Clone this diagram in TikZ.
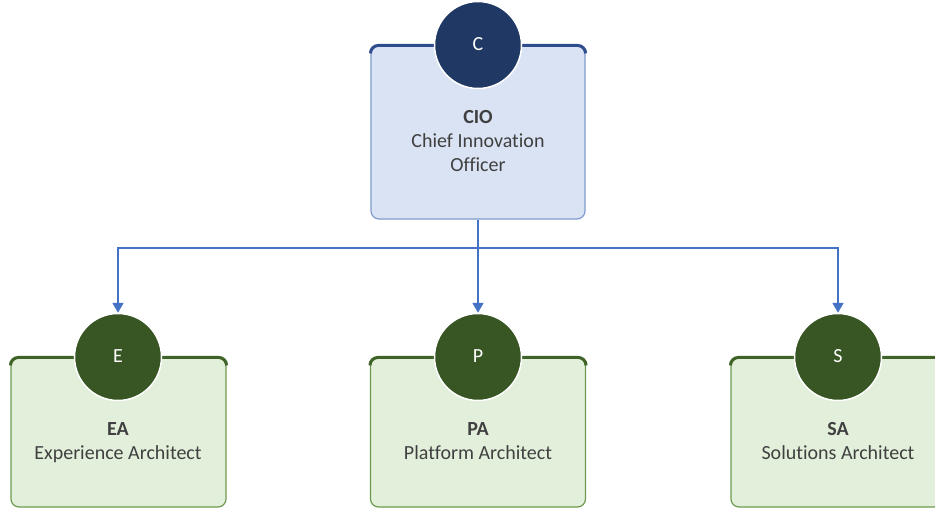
\documentclass[tikz,border=0pt]{standalone}
\usepackage{fontspec}
\setmainfont{Carlito}[Ligatures=NoCommon]
\usetikzlibrary{arrows.meta,calc}

\definecolor{bluefill}{HTML}{DAE3F3}
\definecolor{blueedge}{HTML}{7F9BCB}
\definecolor{bluetop}{HTML}{2F4D8C}
\definecolor{bluedisc}{HTML}{203864}
\definecolor{greenfill}{HTML}{E2EFDA}
\definecolor{greenedge}{HTML}{6E9A4E}
\definecolor{greentop}{HTML}{3F6229}
\definecolor{greendisc}{HTML}{375623}
\definecolor{textgray}{HTML}{404040}
\definecolor{linkblue}{HTML}{4472C4}

\tikzset{
  card/.style={rectangle, rounded corners=8pt, line width=1.2pt, inner sep=0pt},
  bluecard/.style={card, fill=bluefill, draw=blueedge, minimum width=214pt, minimum height=173pt},
  greencard/.style={card, fill=greenfill, draw=greenedge, minimum width=215pt, minimum height=149pt},
  disc/.style={circle, draw=white, line width=1.5pt, minimum size=87pt, inner sep=0pt,
    text=white, font=\fontsize{20}{24}\selectfont, text height=11pt, text depth=0pt},
  label/.style={align=center, text=textgray, font=\fontsize{20}{24}\selectfont},
  link/.style={draw=linkblue, line width=2pt, -{Triangle[width=11pt,length=10pt]}},
}

\newcommand{\topedge}[2]{%
  \draw[#2, line width=3pt, rounded corners=8pt]
    ($(#1.north west)+(0,8)$) -- (#1.north west) -- (#1.north east) -- ($(#1.north east)+(0,8)$);}

\begin{document}
\begin{tikzpicture}[x=1pt,y=-1pt]
\useasboundingbox (0,0) rectangle (935,508);
\clip (0,0) rectangle (935,508);

% Chief Innovation Officer card
\node[bluecard] (cio) at (478,132.5) {};
\topedge{cio}{bluetop}
\node[disc, fill=bluedisc] (c) at (478,45) {C};
\node[label] (ciotext) at (478,145) {\textbf{CIO}\\Chief Innovation\\Officer\strut};

% Architect cards
\node[greencard] (ea) at (118.5,432.5) {};
\topedge{ea}{greentop}
\node[disc, fill=greendisc] (e) at (118,357) {E};
\node[label] (eatext) at (118,445) {\textbf{EA}\\Experience Architect\strut};

\node[greencard] (pa) at (478,432.5) {};
\topedge{pa}{greentop}
\node[disc, fill=greendisc] (p) at (478,357) {P};
\node[label] (patext) at (478,445) {\textbf{PA}\\Platform Architect\strut};

\node[greencard] (sa) at (838.5,432.5) {};
\topedge{sa}{greentop}
\node[disc, fill=greendisc] (s) at (838,357) {S};
\node[label] (satext) at (838,445) {\textbf{SA}\\Solutions Architect\strut};

% Reporting lines
\coordinate (bus) at (478,248);
\draw[link] (cio.south) -- (bus) -| (e.north);
\draw[link] (cio.south) -- (p.north);
\draw[link] (cio.south) -- (bus) -| (s.north);
\end{tikzpicture}
\end{document}
